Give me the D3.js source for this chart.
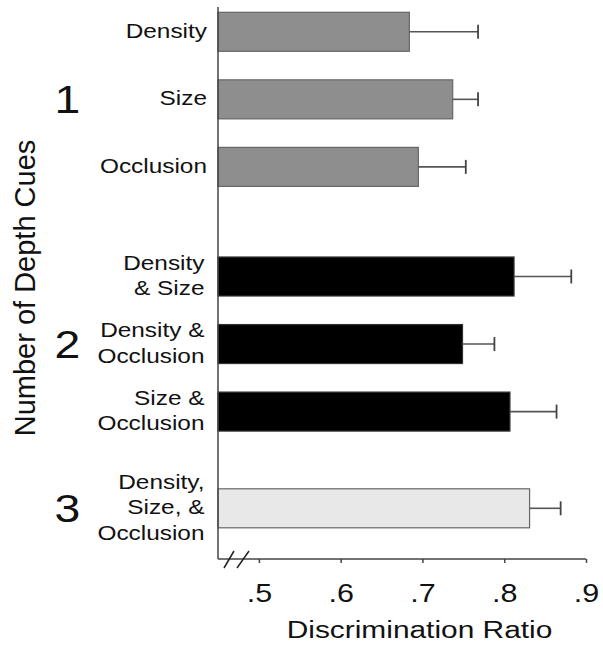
<!DOCTYPE html>
<html>
<head>
<meta charset="utf-8">
<script src="https://cdn.jsdelivr.net/npm/d3@7"></script>
<style>
  html, body { margin: 0; padding: 0; background: #fff; }
  svg { display: block; }
  text { font-family: "Liberation Sans", Arial, Helvetica, sans-serif; fill: #111; }
</style>
</head>
<body>
<svg id="chart" width="603" height="650"></svg>
<script>
// ---- data ----
const categories = [
  ["Density"],
  ["Size"],
  ["Occlusion"],
  ["Density", "& Size"],
  ["Density &", "Occlusion"],
  ["Size &", "Occlusion"],
  ["Density,", "Size, &", "Occlusion"]
];
const cueGroup = [0, 0, 0, 1, 1, 1, 2];           // index into groupLabels
const groupLabels = ["1", "2", "3"];
const means  = [0.684, 0.737, 0.695, 0.812, 0.749, 0.807, 0.831];
const errors = [0.084, 0.031, 0.058, 0.070, 0.039, 0.057, 0.038];
const xTicks = [0.5, 0.6, 0.7, 0.8, 0.9];
const xTickLabels = [".5", ".6", ".7", ".8", ".9"];
const xDomain = [0.45, 0.9];
const xTitle = "Discrimination Ratio";
const yTitle = "Number of Depth Cues";

// ---- styling / layout ----
const groupFill   = ["#8e8e8e", "#000000", "#e8e8e8"];
const groupStroke = ["#666666", "#333333", "#666666"];
const groupGapUnits = [0, 0.623, 1.055];  // extra vertical space between cue groups (in row units)
const SX = 1.22;                          // horizontal stretch of the original artwork text

const svg = d3.select("#chart");
const x = d3.scaleLinear().domain(xDomain).range([218, 586]);
const slot = categories.map((c, i) => i + groupGapUnits[cueGroup[i]]);
const y = d3.scaleLinear().domain([0, 6 + groupGapUnits[2]]).range([31.8, 508.3]);
const barH = 39;
const axisY = 559;

const rows = categories.map((c, i) => ({ lines: c, g: cueGroup[i], m: means[i], e: errors[i], s: slot[i] }));

// bars
svg.append("g").selectAll("rect").data(rows).join("rect")
  .attr("x", x(xDomain[0]))
  .attr("y", d => y(d.s) - barH / 2)
  .attr("width", d => x(d.m) - x(xDomain[0]))
  .attr("height", barH)
  .attr("fill", d => groupFill[d.g])
  .attr("stroke", d => groupStroke[d.g])
  .attr("stroke-width", 1.2);

// error bars
const eb = svg.append("g");
eb.selectAll("line.stem").data(rows).join("line").attr("class", "stem")
  .attr("x1", d => x(d.m)).attr("x2", d => x(d.m + d.e))
  .attr("y1", d => y(d.s)).attr("y2", d => y(d.s))
  .attr("stroke", "#555").attr("stroke-width", 1.6);
eb.selectAll("line.cap").data(rows).join("line").attr("class", "cap")
  .attr("x1", d => x(d.m + d.e)).attr("x2", d => x(d.m + d.e))
  .attr("y1", d => y(d.s) - 7).attr("y2", d => y(d.s) + 7)
  .attr("stroke", "#444").attr("stroke-width", 1.8);

// x axis
const axisG = svg.append("g").attr("transform", `translate(0,${axisY})`);
const xAxis = d3.axisBottom(x).tickValues(xTicks).tickSize(4).tickSizeOuter(0)
  .tickFormat((d, i) => xTickLabels[i]);
axisG.call(xAxis);
axisG.select(".domain").attr("stroke", "#444").attr("stroke-width", 1.5)
  .attr("d", `M${x(xDomain[0])},0H${x(xDomain[1])}`);
axisG.selectAll(".tick line").attr("stroke", "#444").attr("stroke-width", 1.5);
axisG.selectAll(".tick text").remove();
axisG.selectAll(".tick").append("g")
  .attr("transform", `translate(0,42.7) scale(${SX},1)`)
  .append("text")
  .attr("text-anchor", "middle")
  .attr("font-size", 25)
  .text((d, i) => xTickLabels[i]);

// y axis line
svg.append("line")
  .attr("x1", x(xDomain[0])).attr("x2", x(xDomain[0]))
  .attr("y1", 7).attr("y2", axisY)
  .attr("stroke", "#444").attr("stroke-width", 1.5);

// axis break marks
svg.append("path")
  .attr("d", "M224,568L234,551M237,568L249,551")
  .attr("stroke", "#222").attr("stroke-width", 1.5).attr("fill", "none");

// category labels
const labG = svg.append("g");
rows.forEach(d => {
  const n = d.lines.length;
  const ax = n === 1 ? 207 : 204.5;
  d.lines.forEach((t, k) => {
    labG.append("g")
      .attr("transform", `translate(${ax},${y(d.s) + 6 + (k - (n - 1) / 2) * 25.3}) scale(${SX},1)`)
      .append("text")
      .attr("text-anchor", "end")
      .attr("font-size", 20)
      .text(t);
  });
});

// group numbers (centered on middle row of each group)
groupLabels.forEach((gl, gi) => {
  const idx = rows.map((r, i) => i).filter(i => cueGroup[i] === gi);
  const mid = (y(slot[idx[0]]) + y(slot[idx[idx.length - 1]])) / 2;
  svg.append("g")
    .attr("transform", `translate(67.5,${mid + 13.6}) scale(${SX},1)`)
    .append("text")
    .attr("text-anchor", "middle")
    .attr("font-size", 38)
    .text(gl);
});

// axis titles
svg.append("g")
  .attr("transform", `translate(419.5,638) scale(${SX},1)`)
  .append("text")
  .attr("text-anchor", "middle")
  .attr("font-size", 24.5)
  .text(xTitle);

svg.append("text")
  .attr("transform", "translate(35,288) rotate(-90)")
  .attr("text-anchor", "middle")
  .attr("font-size", 29)
  .text(yTitle);
</script>
</body>
</html>
